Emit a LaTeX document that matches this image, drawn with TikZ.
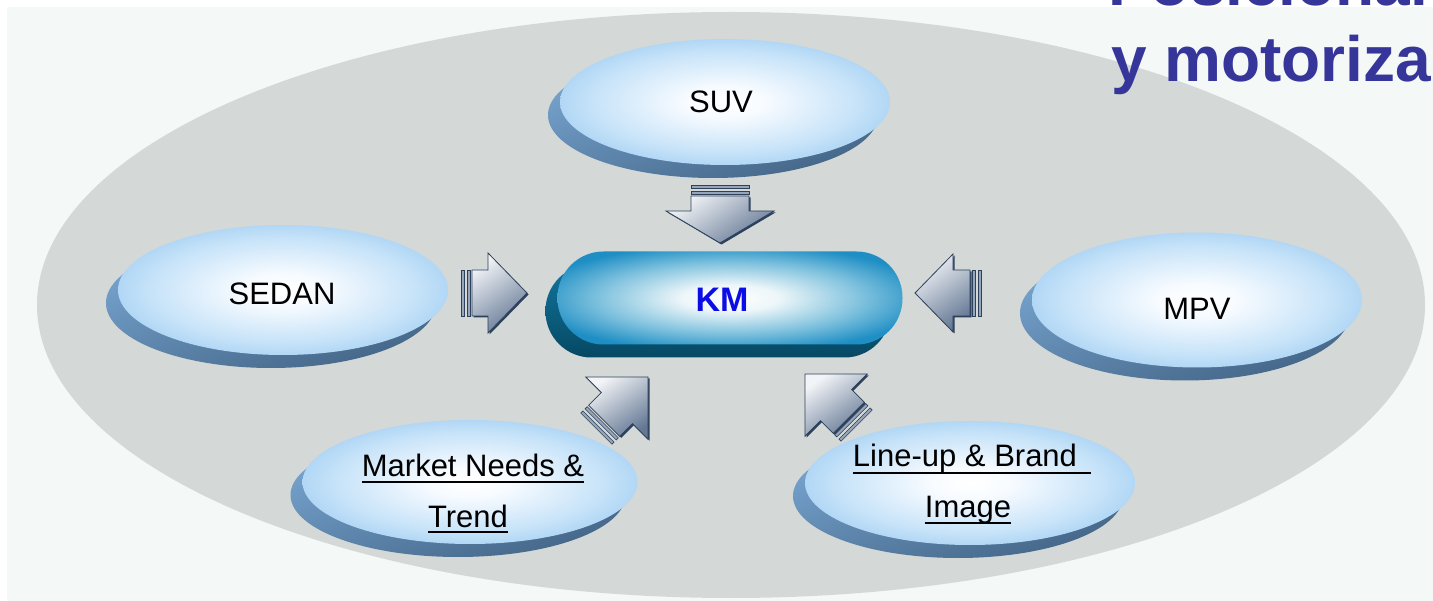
\documentclass[tikz,border=0pt]{standalone}
\usepackage{fontspec}
\setmainfont{Liberation Sans}
\usetikzlibrary{shapes.geometric,shadows}
\definecolor{panelbg}{RGB}{244,248,246}
\definecolor{bgell}{RGB}{212,216,214}
\definecolor{titleblue}{RGB}{54,54,154}
\definecolor{kmtext}{RGB}{12,12,230}
\definecolor{shadL}{RGB}{120,165,208}
\definecolor{shadD}{RGB}{68,102,136}
\definecolor{kmshL}{RGB}{18,118,158}
\definecolor{kmshD}{RGB}{6,72,100}
\definecolor{arrL}{RGB}{242,244,247}
\definecolor{arrD}{RGB}{100,120,148}
\definecolor{arrEdge}{RGB}{45,65,92}
\definecolor{stripecol}{RGB}{150,165,185}
\pgfdeclareradialshading{ballblue}{\pgfpoint{0bp}{0bp}}{rgb(0bp)=(1,1,1); rgb(6bp)=(0.97,0.985,1); rgb(20bp)=(0.78,0.89,0.975); rgb(33bp)=(0.56,0.77,0.94); rgb(50bp)=(0.55,0.765,0.94)}
\pgfdeclareradialshading{kmball}{\pgfpoint{0bp}{0bp}}{rgb(0bp)=(1,1,1); rgb(7bp)=(0.93,0.965,0.975); rgb(19bp)=(0.5,0.76,0.87); rgb(29bp)=(0.12,0.56,0.77); rgb(50bp)=(0.09,0.53,0.74)}
% block arrow: tip (#1,#2), direction #3 (deg, y down), head length #4, head half width #5, shaft length #6, shaft half width #7
\newcommand\blockarrow[7]{%
  \pgfmathsetmacro\bdx{cos(#3)}%
  \pgfmathsetmacro\bdy{sin(#3)}%
  \def\bpt##1##2##3{\coordinate (##1) at ({#1+(##2)*\bdx-(##3)*\bdy},{#2+(##2)*\bdy+(##3)*\bdx});}%
  \bpt{p0}{0}{0}\bpt{p1}{-#4}{#5}\bpt{p2}{-#4}{#7}\bpt{p3}{-#4-#6}{#7}%
  \bpt{p4}{-#4-#6}{-#7}\bpt{p5}{-#4}{-#7}\bpt{p6}{-#4}{-#5}%
  \bpt{s1}{-#4-#6-2}{#7}\bpt{s2}{-#4-#6-5}{#7}\bpt{s3}{-#4-#6-5}{-#7}\bpt{s4}{-#4-#6-2}{-#7}%
  \bpt{t1}{-#4-#6-8}{#7}\bpt{t2}{-#4-#6-11}{#7}\bpt{t3}{-#4-#6-11}{-#7}\bpt{t4}{-#4-#6-8}{-#7}%
  \fill[arrEdge, transform canvas={xshift=1.5pt,yshift=-1.5pt}] (p0)--(p1)--(p2)--(p3)--(p4)--(p5)--(p6)--cycle;
  \filldraw[stripeshape] (s1)--(s2)--(s3)--(s4)--cycle;
  \filldraw[stripeshape] (t1)--(t2)--(t3)--(t4)--cycle;
  \shadedraw[arrbody] (p0)--(p1)--(p2)--(p3)--(p4)--(p5)--(p6)--cycle;
}
\begin{document}
\begin{tikzpicture}[x=1pt,y=-1pt,
  blob/.style={ellipse, inner sep=0pt, shade, shading=ballblue,
    general shadow={shadow xshift=-12pt, shadow yshift=-13pt, top color=shadL, bottom color=shadD, shading angle=20}},
  kmpill/.style={rectangle, rounded corners=46pt, minimum width=345pt, minimum height=93pt, inner sep=0pt,
    shade, shading=kmball,
    general shadow={shadow xshift=-12pt, shadow yshift=-13pt, top color=kmshL, bottom color=kmshD}},
  lbl/.style={anchor=base, inner sep=0pt, font=\fontsize{31}{36}\selectfont, text=black},
  uline/.style={line width=1.8pt, black},
  title/.style={anchor=base west, inner sep=0pt, font=\fontsize{64}{70}\selectfont\bfseries, text=titleblue},
  stripeshape/.style={fill=stripecol, draw=arrEdge, line width=0.6pt},
  arrbody/.style={top color=arrL, bottom color=arrD, shading angle=35, draw=arrEdge, line width=0.8pt}
]
\useasboundingbox (0,0) rectangle (1433,601);
\fill[white] (0,0) rectangle (1433,601);
\fill[panelbg] (7,7) rectangle (1433,601);
\fill[bgell] (731,305) ellipse [x radius=694pt, y radius=293pt];

\node[blob, minimum width=330pt, minimum height=126pt] (suv) at (725,102) {};
\node[blob, minimum width=330pt, minimum height=130pt] (sedan) at (283,290) {};
\node[blob, minimum width=330pt, minimum height=135pt] (mpv) at (1197,300) {};
\node[blob, minimum width=335pt, minimum height=124pt] (market) at (470,482) {};
\node[blob, minimum width=330pt, minimum height=124pt] (lineup) at (970,483) {};
\node[kmpill] (km) at (730,298) {};

\blockarrow{720}{243}{90}{32}{54}{15}{29}
\blockarrow{527}{293}{0}{39}{40}{16}{23}
\blockarrow{915}{293}{180}{38}{39}{17}{23}
\blockarrow{805}{374}{225}{44}{44}{18}{22}
\blockarrow{648}{377}{315}{44}{44}{18}{22}

\node[lbl] (suvt) at (721,113) {SUV};
\node[lbl] (sedant) at (282,305) {SEDAN};
\node[lbl] (mpvt) at (1197,320) {MPV};
\node[lbl, font=\fontsize{34}{40}\selectfont\bfseries, text=kmtext] (kmt) at (722,312) {KM};
\node[lbl] (mk1) at (473,477) {Market Needs \&};
\node[lbl] (mk2) at (468,527) {Trend};
\node[lbl] (lu1) at (965,467) {Line-up \& Brand};
\node[lbl] (lu2) at (968,517) {Image};
\draw[uline] ([yshift=-5pt]mk1.base west) -- ([yshift=-5pt]mk1.base east);
\draw[uline] ([yshift=-5pt]mk2.base west) -- ([yshift=-5pt]mk2.base east);
\draw[uline] ([yshift=-6pt]lu1.base west) -- ([xshift=14pt,yshift=-6pt]lu1.base east);
\draw[uline] ([yshift=-6pt]lu2.base west) -- ([yshift=-6pt]lu2.base east);

\node[title] (t1) at (1108,6) {Posicional};
\node[title] (t2) at (1111,82) {y motoriza};
\end{tikzpicture}
\end{document}
